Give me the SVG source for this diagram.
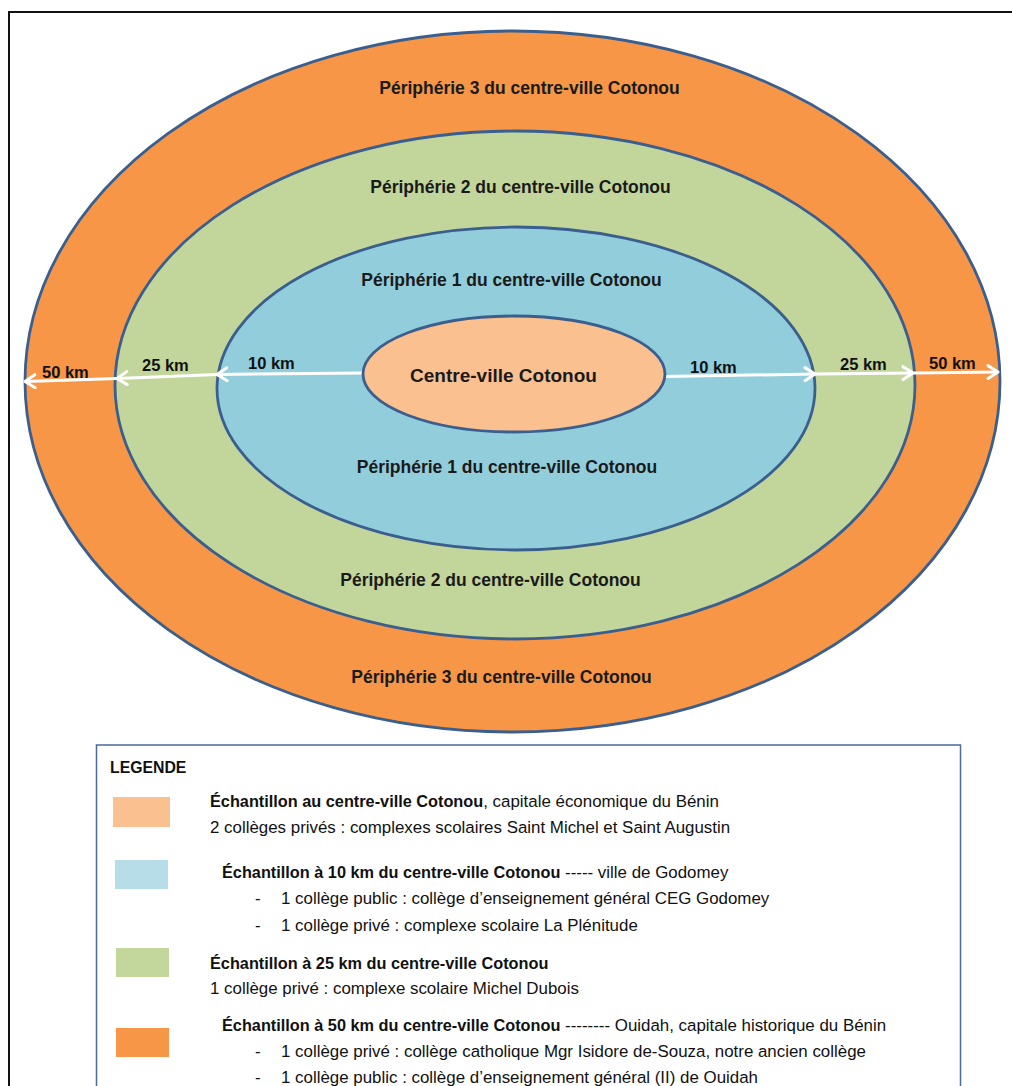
<svg xmlns="http://www.w3.org/2000/svg" width="1012" height="1086" viewBox="0 0 1012 1086">
<style>
.ring{stroke:#3A5F8E;stroke-width:2.8}
.lbl{font-family:"Liberation Sans",Arial,sans-serif;font-weight:bold;font-size:17.5px;fill:#1a1a1a;text-anchor:middle}
.km{font-family:"Liberation Sans",Arial,sans-serif;font-weight:bold;font-size:16.5px;fill:#111}
.arr{fill:none;stroke:#fff;stroke-width:3;stroke-linejoin:round}
.lg{font-family:"Liberation Sans",Arial,sans-serif;font-size:16.9px;fill:#111}
.b{font-weight:bold;font-size:16.3px}
</style>
<defs>
<marker id="chev" markerUnits="userSpaceOnUse" viewBox="0 0 14 16" refX="12" refY="8" markerWidth="14" markerHeight="16" orient="auto">
<path d="M2,1.5 L12,8 L2,14.5" fill="none" stroke="#fff" stroke-width="3" stroke-linecap="round" stroke-linejoin="round"/>
</marker>
</defs>
<rect x="0" y="0" width="1012" height="1086" fill="#fff"/>
<rect x="9" y="12" width="1012" height="1090" fill="none" stroke="#111" stroke-width="2"/>

<g id="peripherie3">
<ellipse class="ring" cx="512.5" cy="381.5" rx="487.5" ry="350.5" fill="#F79646"/>
<text class="lbl" x="529.5" y="94">Périphérie 3 du centre-ville Cotonou</text>
<text class="lbl" x="501.5" y="683">Périphérie 3 du centre-ville Cotonou</text>
</g>
<g id="peripherie2">
<ellipse class="ring" cx="515" cy="385" rx="400" ry="254" fill="#C2D69B"/>
<text class="lbl" x="520.5" y="193">Périphérie 2 du centre-ville Cotonou</text>
<text class="lbl" x="490.5" y="586">Périphérie 2 du centre-ville Cotonou</text>
</g>
<g id="peripherie1">
<ellipse class="ring" cx="516" cy="388.5" rx="299" ry="161.5" fill="#92CDDC"/>
<text class="lbl" x="511.5" y="286">Périphérie 1 du centre-ville Cotonou</text>
<text class="lbl" x="507" y="473">Périphérie 1 du centre-ville Cotonou</text>
</g>

<g id="connectors">
<polyline class="arr" points="363,373 217,374.5 117,378.5 25,381.5" marker-mid="url(#chev)" marker-end="url(#chev)"/>
<polyline class="arr" points="665,376.5 815,374 913,373 998,372" marker-mid="url(#chev)" marker-end="url(#chev)"/>
<text class="km" x="42" y="378">50 km</text>
<text class="km" x="142" y="371">25 km</text>
<text class="km" x="248" y="369">10 km</text>
<text class="km" x="690" y="373">10 km</text>
<text class="km" x="840" y="370">25 km</text>
<text class="km" x="929" y="369">50 km</text>
</g>

<g id="centre">
<ellipse class="ring" cx="514" cy="374" rx="151" ry="58" fill="#FAC090"/>
<text class="lbl" x="503.5" y="382" style="font-size:19px">Centre-ville Cotonou</text>
</g>

<g id="legende">
<rect x="96.5" y="745" width="864" height="360" fill="#fff" stroke="#4A6A9A" stroke-width="1.5"/>
<text class="lg b" x="110" y="773" style="font-size:15.8px">LEGENDE</text>
<rect x="113" y="797" width="57" height="30" fill="#FAC090"/>
<rect x="115" y="860" width="53" height="29" fill="#B7DEE8"/>
<rect x="116" y="948" width="53" height="29" fill="#C3D69B"/>
<rect x="116" y="1028" width="53" height="29" fill="#F79646"/>
<text class="lg" x="210" y="807"><tspan class="b">Échantillon au centre-ville Cotonou</tspan>, capitale économique du Bénin</text>
<text class="lg" x="210" y="833">2 collèges privés : complexes scolaires Saint Michel et Saint Augustin</text>
<text class="lg" x="222" y="878"><tspan class="b">Échantillon à 10 km du centre-ville Cotonou</tspan> ----- ville de Godomey</text>
<text class="lg" x="255" y="904">-</text>
<text class="lg" x="281" y="904">1 collège public : collège d’enseignement général CEG Godomey</text>
<text class="lg" x="255" y="931">-</text>
<text class="lg" x="281" y="931">1 collège privé : complexe scolaire La Plénitude</text>
<text class="lg b" x="210" y="969">Échantillon à 25 km du centre-ville Cotonou</text>
<text class="lg" x="210" y="994">1 collège privé : complexe scolaire Michel Dubois</text>
<text class="lg" x="222" y="1031"><tspan class="b">Échantillon à 50 km du centre-ville Cotonou</tspan> -------- Ouidah, capitale historique du Bénin</text>
<text class="lg" x="255" y="1057">-</text>
<text class="lg" x="281" y="1057">1 collège privé : collège catholique Mgr Isidore de-Souza, notre ancien collège</text>
<text class="lg" x="255" y="1083">-</text>
<text class="lg" x="281" y="1083">1 collège public : collège d’enseignement général (II) de Ouidah</text>
</g>
</svg>
